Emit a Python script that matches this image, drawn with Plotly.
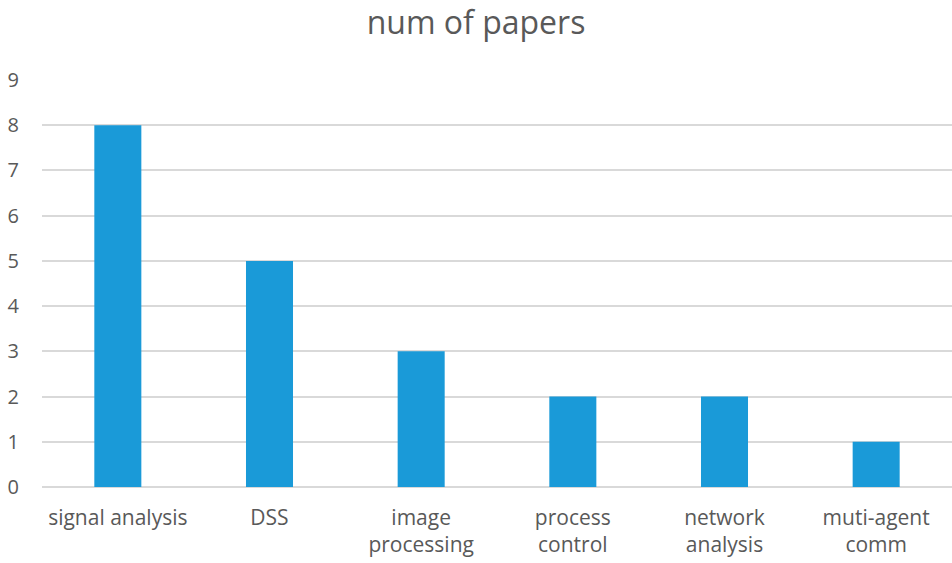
import plotly.graph_objects as go

categories = ["signal analysis", "DSS", "image<br>processing", "process<br>control",
              "network<br>analysis", "muti-agent<br>comm"]
num_papers = [8, 5, 3, 2, 2, 1]
y_ticks = [0, 1, 2, 3, 4, 5, 6, 7, 8, 9]

FONT = "Open Sans"
GRAY = "#595959"

fig = go.Figure(go.Bar(x=categories, y=num_papers, marker_color="#1a9ad8",
                       marker_line_width=0))
fig.update_layout(
    width=952, height=563,
    margin=dict(l=42, r=0, t=80, b=76),
    paper_bgcolor="white", plot_bgcolor="white",
    bargap=0.69,
    title=dict(text="num of papers", x=0.5, xanchor="center", y=0.96, yanchor="middle",
               font=dict(family=FONT, size=32, color=GRAY)),
    font=dict(family=FONT, color=GRAY),
    showlegend=False,
)
fig.update_xaxes(showgrid=False, showline=False, zeroline=False,
                 tickfont=dict(size=21, color=GRAY), ticks="", ticklabelstandoff=16)
fig.update_yaxes(range=[0, 9], tickvals=y_ticks, showgrid=True, gridcolor="#d9d9d9",
                 gridwidth=1.5, zeroline=True, zerolinecolor="#d9d9d9", zerolinewidth=1.5,
                 showline=False, ticks="", tickfont=dict(size=20, color=GRAY),
                 ticklabelstandoff=22)
fig.write_html("out.html")
